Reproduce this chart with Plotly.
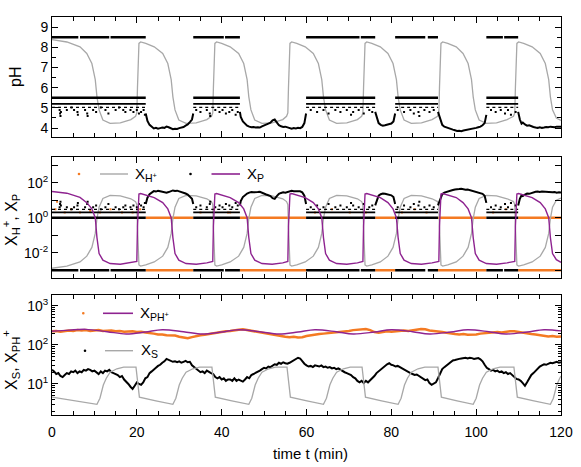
import numpy as np
import plotly.graph_objects as go

ORANGE = '#f47a22'
PURPLE = '#8e2390'
GRAY = '#a8a8a8'
BLACK = '#000000'
FONT = 'Liberation Sans, Arial, sans-serif'

W, H = 581, 467
ML, MR, MT, MB = 52, 20, 17, 52

PH_ONE = 5.5   # pH of a single H+ particle
ZERO = 1e-3    # zero counts are drawn at the bottom of the log axis

# ---- deterministic solution (pH and log10 X_P share one time grid) ----
t_det = [
    0, 3.5, 6.6, 8.2, 9.4, 10.2, 10.6, 11.1, 12.0, 13.7, 16.1, 18.6, 19.7,
    20.0, 20.15, 20.3, 20.5, 20.9, 22.1, 24.1, 26.1, 27.3, 28.1, 28.5, 29.0, 29.9, 31.6, 34.0, 36.5, 37.6,
    37.9, 38.05, 38.2, 38.4, 38.8, 40.0, 42.0, 44.0, 45.2, 46.0, 46.4, 46.9, 47.8, 49.5, 51.9, 54.4, 55.3,
    55.6, 55.75, 55.9, 56.1, 56.5, 57.7, 59.7, 61.6, 62.8, 63.6, 64.0, 64.5, 65.4, 67.1, 69.5, 72.0, 73.0,
    73.3, 73.45, 73.6, 73.8, 74.2, 75.4, 77.4, 79.2, 80.4, 81.2, 81.6, 82.1, 83.0, 84.7, 87.1, 89.6, 90.9,
    91.2, 91.35, 91.5, 91.7, 92.1, 93.3, 95.3, 96.9, 98.1, 98.9, 99.3, 99.8, 100.7, 102.4, 104.8, 107.3, 108.8,
    109.1, 109.25, 109.4, 109.6, 110.0, 111.2, 113.2, 115.1, 116.3, 117.1, 117.5, 118.0, 118.9, 120.0,
]
ph_det = [
    8.39, 8.27, 8.03, 7.7, 7.2, 6.4, 5.55, 4.9, 4.4, 4.23, 4.26, 4.42, 4.58,
    4.75, 6.0, 7.8, 8.2, 8.27, 8.2, 8.03, 7.7, 7.2, 6.4, 5.55, 4.9, 4.4, 4.23, 4.26, 4.42, 4.58,
    4.75, 6.0, 7.8, 8.2, 8.27, 8.2, 8.03, 7.7, 7.2, 6.4, 5.55, 4.9, 4.4, 4.23, 4.26, 4.42, 4.58,
    4.75, 6.0, 7.8, 8.2, 8.27, 8.2, 8.03, 7.7, 7.2, 6.4, 5.55, 4.9, 4.4, 4.23, 4.26, 4.42, 4.58,
    4.75, 6.0, 7.8, 8.2, 8.27, 8.2, 8.03, 7.7, 7.2, 6.4, 5.55, 4.9, 4.4, 4.23, 4.26, 4.42, 4.58,
    4.75, 6.0, 7.8, 8.2, 8.27, 8.2, 8.03, 7.7, 7.2, 6.4, 5.55, 4.9, 4.4, 4.23, 4.26, 4.42, 4.58,
    4.75, 6.0, 7.8, 8.2, 8.27, 8.2, 8.03, 7.7, 7.2, 6.4, 5.55, 4.9, 4.5, 4.38,
]
xp_det_exp = [
    1.50, 1.40, 1.16, 0.86, 0.50, 0.00, -1.14, -2.05, -2.43, -2.62, -2.66, -2.58, -2.53,
    -2.5, -0.5, 1.0, 1.35, 1.38, 1.3, 1.15, 0.86, 0.5, 0.0, -1.14, -2.05, -2.43, -2.62, -2.66, -2.58, -2.53,
    -2.5, -0.5, 1.0, 1.35, 1.38, 1.3, 1.15, 0.86, 0.5, 0.0, -1.14, -2.05, -2.43, -2.62, -2.66, -2.58, -2.53,
    -2.5, -0.5, 1.0, 1.35, 1.38, 1.3, 1.15, 0.86, 0.5, 0.0, -1.14, -2.05, -2.43, -2.62, -2.66, -2.58, -2.53,
    -2.5, -0.5, 1.0, 1.35, 1.38, 1.3, 1.15, 0.86, 0.5, 0.0, -1.14, -2.05, -2.43, -2.62, -2.66, -2.58, -2.53,
    -2.5, -0.5, 1.0, 1.35, 1.38, 1.3, 1.15, 0.86, 0.5, 0.0, -1.14, -2.05, -2.43, -2.62, -2.66, -2.58, -2.53,
    -2.5, -0.5, 1.0, 1.35, 1.38, 1.3, 1.15, 0.86, 0.5, 0.0, -1.14, -2.05, -2.4, -2.55,
]

# deterministic X_S
t_xs_det = [
    0, 5.3, 10.6, 11.3, 12.1, 12.8, 13.7, 15.3, 16.9, 19.8,
    20.1, 20.4, 20.6, 24.5, 28.5, 29.2, 30.0, 30.7, 31.6, 33.2, 34.8, 37.7,
    38.0, 38.3, 38.5, 42.4, 46.4, 47.1, 47.9, 48.6, 49.5, 51.1, 52.7, 55.4,
    55.7, 56.0, 56.2, 60.1, 64.0, 64.7, 65.5, 66.2, 67.1, 68.7, 70.3, 73.1,
    73.4, 73.7, 73.9, 77.7, 81.6, 82.3, 83.1, 83.8, 84.7, 86.3, 87.9, 91.0,
    91.3, 91.6, 91.8, 95.5, 99.3, 100.0, 100.8, 101.5, 102.4, 104.0, 105.6, 108.9,
    109.2, 109.5, 109.7, 113.6, 117.5, 118.2, 119.0, 119.7, 120.0,
]
xs_det = [
    4.6, 3.7, 3.0, 4.3, 9.4, 14, 20, 24.5, 27, 27,
    14, 5.2, 4.6, 3.7, 3.0, 4.3, 9.4, 14, 20, 24.5, 27, 27,
    14, 5.2, 4.6, 3.7, 3.0, 4.3, 9.4, 14, 20, 24.5, 27, 27,
    14, 5.2, 4.6, 3.7, 3.0, 4.3, 9.4, 14, 20, 24.5, 27, 27,
    14, 5.2, 4.6, 3.7, 3.0, 4.3, 9.4, 14, 20, 24.5, 27, 27,
    14, 5.2, 4.6, 3.7, 3.0, 4.3, 9.4, 14, 20, 24.5, 27, 27,
    14, 5.2, 4.6, 3.7, 3.0, 4.3, 9.4, 14, 16,
]

# deterministic X_PH+ (log10)
t_xph_det = [0, 4, 8, 13, 17.5, 22, 26, 31, 35.5, 40, 44, 49, 53.5, 58, 62, 67, 71,
             76, 80, 85, 89, 94, 98, 103, 107, 112, 116, 120]
xph_det_exp = [2.35, 2.38, 2.40, 2.34, 2.28, 2.33, 2.39, 2.34, 2.28, 2.33, 2.39, 2.34, 2.28,
               2.33, 2.39, 2.34, 2.28, 2.33, 2.39, 2.34, 2.28, 2.33, 2.39, 2.34, 2.28, 2.33,
               2.39, 2.36]

# ---- stochastic run ----
# X_S, sampled every 0.5 min
t_xs_stoch = np.arange(0, 120.01, 0.5)
xs_stoch = [
    23, 21, 18, 19, 16, 15, 17, 19, 18, 21,
    20, 22, 19, 21, 20, 23, 22, 24, 23, 21,
    22, 20, 18, 21, 19, 22, 21, 23, 20, 19,
    18, 17, 15, 16, 13, 11, 10, 8.5, 7.5, 9,
    11, 10, 9.5, 11, 14, 15, 19, 21, 24, 26,
    29, 31, 35, 38, 44, 41, 39, 37, 38, 36,
    38, 35, 37, 39, 36, 37, 30, 27, 24, 22,
    20, 21, 19, 22, 20, 19, 18, 15, 14, 15,
    13, 14, 12, 13, 13, 12, 14, 12, 13, 12,
    11.5, 13, 15, 14, 17, 18, 19, 21, 22, 24,
    26, 25, 28, 27, 30, 32, 31, 35, 33, 36,
    34, 33, 35, 38, 42, 44, 47, 45, 38, 33,
    30, 28, 29, 27, 30, 29, 28, 30, 27, 28,
    26, 27, 25, 26, 24, 25, 23, 22, 20, 19,
    18, 17, 15, 14, 12, 11, 12, 10.5, 12, 11,
    12.5, 14, 16, 19, 21, 24, 27, 30, 32, 34,
    31, 30, 28, 29, 27, 25, 23, 21, 20, 19,
    18, 17, 17.5, 16, 15, 14, 12.5, 13, 10.5, 9.5,
    10, 11, 14, 19, 24, 27, 30, 33, 37, 40,
    41, 43, 44, 45, 46, 47, 45, 47, 46, 44,
    45, 46, 43, 38, 31, 26, 24, 22, 23, 21,
    22, 20, 21, 19, 20, 18, 19, 17, 15, 13.5,
    13, 12, 10.5, 9, 11, 14, 17, 19, 22, 25,
    28, 30, 32, 31, 33, 35, 34, 36, 37, 35,
    36,
]

# X_PH+ (log10), sampled every minute
t_xph_stoch = np.arange(0, 121, 1)
xph_stoch_exp = [
    2.35, 2.36, 2.34, 2.36, 2.37, 2.36, 2.38, 2.37, 2.38, 2.36,
    2.37, 2.38, 2.36, 2.37, 2.37, 2.35, 2.36, 2.34, 2.35, 2.35,
    2.33, 2.34, 2.32, 2.31, 2.29, 2.27, 2.27, 2.25, 2.24, 2.24,
    2.21, 2.19, 2.17, 2.20, 2.23, 2.25, 2.26, 2.28, 2.29, 2.31,
    2.33, 2.35, 2.36, 2.38, 2.39, 2.40, 2.38, 2.36, 2.34, 2.32,
    2.31, 2.28, 2.26, 2.24, 2.22, 2.21, 2.20, 2.21, 2.19, 2.20,
    2.23, 2.25, 2.26, 2.28, 2.29, 2.30, 2.32, 2.33, 2.34, 2.35,
    2.36, 2.38, 2.39, 2.40, 2.41, 2.38, 2.33, 2.31, 2.33, 2.35,
    2.34, 2.35, 2.36, 2.37, 2.36, 2.38, 2.39, 2.41, 2.40, 2.37,
    2.36, 2.35, 2.33, 2.31, 2.29, 2.28, 2.27, 2.28, 2.26, 2.26,
    2.27, 2.29, 2.30, 2.31, 2.32, 2.33, 2.32, 2.34, 2.35, 2.35,
    2.33, 2.31, 2.29, 2.28, 2.27, 2.25, 2.23, 2.22, 2.23, 2.21,
    2.22,
]

# X_H+ while many particles are present (None separates the bursts)
t_h_burst = [
    22.1, 22.5, 23.0, 23.5, 24.0, 24.5, 25.0, 25.5, 26.0, 26.5, 27.0, 27.5, 28.0, 28.5,
    29.0, 29.5, 30.0, 30.5, 31.0, 31.5, 32.0, 32.5, 33.0, 33.3, None,
    44.3, 44.5, 45.0, 45.5, 46.0, 46.5, 47.0, 47.5, 48.0, 48.5, 49.0, 49.5, 50.0, 50.5,
    51.0, 51.5, 52.0, 52.5, 53.0, 53.5, 54.0, 54.5, 55.0, 55.5, 56.0, 56.5, 57.0, 57.5,
    58.0, 58.5, 59.0, 59.5, 59.9, None,
    76.2, 76.6, 77.0, 77.5, 78.0, 78.5, 79.0, 79.5, 80.0, 80.5, 80.9, None,
    91.0, 91.5, 92.0, 92.5, 93.0, 93.5, 94.0, 94.5, 95.0, 95.5, 96.0, 96.5, 97.0, 97.5,
    98.0, 98.5, 99.0, 99.5, 100.0, 100.5, 101.0, 101.5, 102.0, 102.4, None,
    109.9, 110.3, 110.7, 111.0, 111.5, 112.0, 112.5, 113.0, 113.5, 114.0, 114.5, 115.0,
    115.5, 116.0, 116.5, 117.0, 117.5, 118.0, 118.5, 119.0, 119.5, 120.0,
]
x_h_burst = [
    6, 14, 22, 28, 33, 31, 34, 32, 30, 31, 27, 29, 33, 36,
    34, 35, 32, 30, 28, 24, 21, 16, 12, 6, None,
    5, 9, 15, 20, 24, 27, 29, 28, 30, 29, 30, 26, 24, 21,
    19, 17, 13, 12, 17, 23, 26, 28, 27, 30, 33, 34, 32, 33,
    31, 32, 28, 18, 6, None,
    5, 10, 18, 22, 24, 23, 22, 20, 19, 15, 6, None,
    5, 12, 22, 27, 30, 33, 35, 38, 41, 44, 43, 45, 42, 40,
    41, 38, 36, 34, 31, 29, 27, 23, 18, 7, None,
    5, 12, 19, 17, 21, 24, 23, 26, 28, 30, 31, 29,
    31, 30, 28, 29, 27, 28, 29, 27, 28, 27,
]

# periods with only a few particles
few_iv = [(0, 22.1), (33.3, 44.3), (59.9, 76.2), (80.9, 91.0), (102.4, 109.9)]
burst_iv = [(22.1, 33.3), (44.3, 59.9), (76.2, 80.9), (91.0, 102.4), (109.9, 120)]
h_zero_iv = [(0, 6.2), (6.6, 13.5), (13.8, 22.1), (33.3, 40.5), (40.8, 44.3),
             (59.9, 72.5), (72.8, 76.2), (80.9, 88.0), (88.6, 91.0),
             (102.4, 106.3), (106.6, 109.9)]

# occasional larger H+ counts during the quiet periods
spike_t = [1.8, 1.9, 2.0, 2.1, 3.5, 4.6, 5.2, 6.0, 6.1, 7.8, 8.3, 8.4, 9.7, 10.4, 11.5,
           12.6, 13.3, 15.0, 15.8, 16.8, 17.3, 18.5, 19.2, 20.0, 20.5, 21.0, 21.6, 21.9,
           34.0, 35.0, 36.5, 37.2, 37.3, 38.5, 39.5, 40.2, 41.0, 41.8, 42.5, 43.3, 43.8,
           61.0, 62.5, 64.0, 65.2, 66.8, 68.0, 69.5, 70.5, 71.0, 72.3, 73.5, 74.8, 75.5,
           81.5, 83.0, 84.5, 85.3, 86.4, 86.6, 87.8, 89.0, 90.0,
           103.5, 104.6, 105.8, 106.8, 107.5, 108.2, 109.3]
spike_n = [4, 6, 8, 5, 4, 3, 4, 5, 7, 4, 6, 8, 4, 5, 3,
           4, 6, 4, 3, 4, 5, 4, 5, 4, 6, 5, 4, 7,
           4, 5, 4, 6, 8, 4, 5, 4, 6, 5, 4, 7, 5,
           4, 5, 4, 6, 4, 5, 4, 7, 5, 4, 6, 4, 5,
           4, 5, 4, 6, 5, 8, 4, 5, 4,
           4, 5, 4, 6, 4, 7, 5]

# orange specks (X_P counts) during the quiet periods
orng_t = [0.8, 1.2, 3.0, 4.5, 6.6, 9.0, 11.3, 13.8, 16.5, 19.0, 20.8, 35.0, 38.2, 41.5,
          42.0, 62.0, 66.0, 70.2, 74.0, 82.5, 85.5, 88.3, 104.0, 107.0]
orng_n = [3, 8, 2, 3, 2, 2.5, 2, 3, 2, 2, 3, 2, 3, 2,
          2, 2, 3, 2, 2, 2, 3, 2, 2, 3]


def to_ph(vals):
    return [None if v is None else PH_ONE - np.log10(v) for v in vals]


def seg_xy(ivs, level):
    xs, ys = [], []
    for a, b in ivs:
        xs += [a, b, None]
        ys += [level, level, None]
    return xs, ys


def px_x(px):
    return (px - ML) / (W - ML - MR)


def px_y(py):
    return (H - MB - py) / (H - MT - MB)


def line(x, y, color, width, ax, dash=None, shape='linear'):
    return go.Scatter(x=x, y=y, mode='lines', xaxis=ax[0], yaxis=ax[1],
                      line=dict(color=color, width=width, dash=dash, shape=shape),
                      hoverinfo='skip', showlegend=False)


def dots(x, y, color, size, ax):
    return go.Scatter(x=x, y=y, mode='markers', xaxis=ax[0], yaxis=ax[1],
                      marker=dict(color=color, size=size, symbol='square'),
                      hoverinfo='skip', showlegend=False)


# rows of small counts: (count, line width, dash)
ROWS = [(ZERO, 2.5, None), (1, 2.5, None), (2, 1.8, None), (3, 1.4, 'dot')]

A1, A2, A3 = ('x', 'y'), ('x2', 'y2'), ('x3', 'y3')
fig = go.Figure()

# ---- panel 1: pH ----
fig.add_trace(line(t_det, ph_det, GRAY, 1.3, A1))
for n, w, d in ROWS:
    xs, ys = seg_xy(h_zero_iv if n == ZERO else few_iv, PH_ONE - np.log10(n))
    fig.add_trace(line(xs, ys, BLACK, w, A1, dash=d))
fig.add_trace(dots(spike_t, to_ph(spike_n), BLACK, 2, A1))
fig.add_trace(line(t_h_burst, to_ph(x_h_burst), BLACK, 2, A1))

# ---- panel 2: X_H+, X_P ----
for lvl in [ZERO, 1]:
    xs, ys = seg_xy(burst_iv, lvl)
    fig.add_trace(line(xs, ys, ORANGE, 2.5, A2))
fig.add_trace(dots(orng_t, orng_n, ORANGE, 2, A2))
fig.add_trace(line(t_det, [10 ** (PH_ONE - p) for p in ph_det], GRAY, 1.3, A2))
for n, w, d in ROWS:
    xs, ys = seg_xy(h_zero_iv if n == ZERO else few_iv, n)
    fig.add_trace(line(xs, ys, BLACK, w, A2, dash=d))
fig.add_trace(dots(spike_t, spike_n, BLACK, 2, A2))
fig.add_trace(line(t_h_burst, x_h_burst, BLACK, 2, A2))
fig.add_trace(line(t_det, [10 ** e for e in xp_det_exp], PURPLE, 1.4, A2))

# ---- panel 3: X_S, X_PH+ ----
fig.add_trace(line(t_xph_stoch, [10 ** e for e in xph_stoch_exp], ORANGE, 2.5, A3))
fig.add_trace(line(t_xph_det, [10 ** e for e in xph_det_exp], PURPLE, 1.4, A3, shape='spline'))
fig.add_trace(line(t_xs_stoch, xs_stoch, BLACK, 2, A3))
fig.add_trace(line(t_xs_det, xs_det, GRAY, 1.3, A3))

# ---- axes ----
tickfont = dict(family=FONT, size=14, color='black')
frame = dict(showline=True, linecolor='black', linewidth=1, mirror='allticks',
             ticks='inside', tickcolor='black', showgrid=False, zeroline=False,
             tickfont=tickfont, automargin=False)
xcommon = dict(frame, range=[0, 120], tick0=0, dtick=20, ticklen=6,
               minor=dict(dtick=5, ticks='inside', ticklen=4, tickcolor='black', showgrid=False))

dec2 = [1e-3, 1e-2, 1e-1, 1, 10, 100, 1000]
dec2_text = ['', '10<sup>-2</sup>', '', '10<sup>0</sup>', '', '10<sup>2</sup>', '']
minor3 = [m * 10 ** k for k in range(0, 3) for m in range(2, 10)]

fig.update_layout(
    width=W, height=H,
    margin=dict(l=ML, r=MR, t=MT, b=MB, autoexpand=False),
    paper_bgcolor='white', plot_bgcolor='white',
    font=dict(family=FONT, color='black'),
    showlegend=False,
    xaxis=dict(xcommon, anchor='y', domain=[0, 1], showticklabels=False),
    xaxis2=dict(xcommon, anchor='y2', domain=[0, 1], showticklabels=False),
    xaxis3=dict(xcommon, anchor='y3', domain=[0, 1], ticklabelstandoff=4),
    yaxis=dict(frame, anchor='x', domain=[px_y(137.3), 1.0], range=[3.54, 9.51],
               tick0=0, dtick=1, ticklen=6,
               minor=dict(dtick=0.5, ticks='inside', ticklen=4, tickcolor='black', showgrid=False)),
    yaxis2=dict(frame, anchor='x2', domain=[px_y(277.7), px_y(157.3)], type='log',
                range=[-3.43, 3.45], tickmode='array', tickvals=dec2, ticktext=dec2_text,
                ticklen=6),
    yaxis3=dict(frame, anchor='x3', domain=[0, px_y(295)], type='log',
                range=[0.205, 3.28], tickmode='array', tickvals=[10, 100, 1000],
                ticktext=['10<sup>1</sup>', '10<sup>2</sup>', '10<sup>3</sup>'], ticklen=6,
                minor=dict(tickmode='array', tickvals=minor3, ticks='inside', ticklen=3,
                           tickcolor='black', showgrid=False)),
)

# ---- axis titles ----
ann = [
    dict(text='pH', x=px_x(15), y=px_y(77), textangle=-90, font=dict(size=16)),
    dict(text='X<sub>H</sub><sup>+</sup>, X<sub>P</sub>', x=px_x(11), y=px_y(220),
         textangle=-90, font=dict(size=16)),
    dict(text='X<sub>S</sub>, X<sub>PH</sub><sup>+</sup>', x=px_x(11), y=px_y(360),
         textangle=-90, font=dict(size=16)),
    dict(text='time t (min)', x=px_x(310), y=px_y(453), font=dict(size=15)),
]
for a in ann:
    fig.add_annotation(xref='paper', yref='paper', showarrow=False,
                       xanchor='center', yanchor='middle', **a)

# ---- hand-made keys (dot + line + label) ----
keys = [
    (79, 174, ORANGE, 100, 128, GRAY, 'X<sub>H<sup>+</sup></sub>', 133),
    (190.5, 174, BLACK, 211.5, 240, PURPLE, 'X<sub>P</sub>', 245),
    (83.3, 313.3, ORANGE, 103, 133, PURPLE, 'X<sub>PH<sup>+</sup></sub>', 137.5),
    (85, 350.7, BLACK, 105, 133, GRAY, 'X<sub>S</sub>', 138.5),
]
for dx, ky, dcol, lx0, lx1, lcol, label, tx in keys:
    fig.add_shape(type='circle', xref='paper', yref='paper',
                  x0=px_x(dx - 1.3), x1=px_x(dx + 1.3), y0=px_y(ky + 1.3), y1=px_y(ky - 1.3),
                  fillcolor=dcol, line=dict(width=0))
    fig.add_shape(type='line', xref='paper', yref='paper',
                  x0=px_x(lx0), x1=px_x(lx1), y0=px_y(ky), y1=px_y(ky),
                  line=dict(color=lcol, width=1.6 if lcol == PURPLE else 1.4))
    fig.add_annotation(xref='paper', yref='paper', showarrow=False, text=label,
                       x=px_x(tx), y=px_y(ky), xanchor='left', yanchor='middle',
                       font=dict(size=15))

# the page's default body margin would shift the figure by 8 px
fig.write_html("out.html", config={'displayModeBar': False},
               post_script="document.body.style.margin='0';")
